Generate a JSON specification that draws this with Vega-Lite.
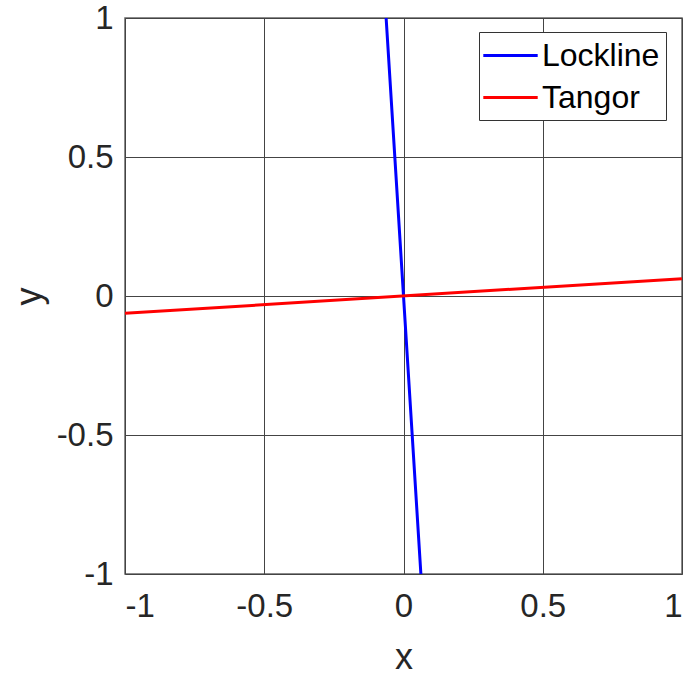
{
  "$schema": "https://vega.github.io/schema/vega-lite/v6.json",
  "width": 557,
  "height": 556,
  "autosize": {"type": "none"},
  "padding": {"left": 125, "top": 18, "right": 4, "bottom": 103},
  "background": "white",
  "data": {
    "values": [
      {"x": -0.0625, "y": 1, "series": "Lockline", "o": 0},
      {"x": 0.0625, "y": -1, "series": "Lockline", "o": 1},
      {"x": -1, "y": -0.0625, "series": "Tangor", "o": 0},
      {"x": 1, "y": 0.0625, "series": "Tangor", "o": 1}
    ]
  },
  "mark": {"type": "line", "strokeWidth": 3, "clip": true},
  "encoding": {
    "x": {
      "field": "x", "type": "quantitative",
      "scale": {"domain": [-1, 1], "nice": false, "zero": false},
      "axis": {"values": [-1, -0.5, 0, 0.5, 1], "title": "x", "labelExpr": "'' + datum.value"}
    },
    "y": {
      "field": "y", "type": "quantitative",
      "scale": {"domain": [-1, 1], "nice": false, "zero": false},
      "axis": {"values": [-1, -0.5, 0, 0.5, 1], "title": "y", "labelExpr": "'' + datum.value"}
    },
    "order": {"field": "o"},
    "color": {
      "field": "series", "type": "nominal",
      "scale": {"domain": ["Lockline", "Tangor"], "range": ["#0000ff", "#ff0000"]},
      "legend": {
        "title": null,
        "orient": "none",
        "legendX": 354,
        "legendY": 14,
        "symbolType": "M-1.7,0H1.7",
        "symbolSize": 1024,
        "symbolStrokeWidth": 3,
        "symbolOffset": 8,
        "labelFontSize": 32,
        "labelFont": "Liberation Sans",
        "labelColor": "black",
        "labelOffset": 14,
        "rowPadding": 8,
        "padding": 6,
        "strokeColor": "#333333",
        "fillColor": "white"
      }
    }
  },
  "config": {
    "view": {"stroke": "#666666", "strokeWidth": 1.5},
    "axis": {
      "labelFont": "Liberation Sans",
      "titleFont": "Liberation Sans",
      "labelFontSize": 33,
      "titleFontSize": 36,
      "titleFontWeight": "normal",
      "labelColor": "#262626",
      "titleColor": "#262626",
      "grid": true,
      "gridColor": "#444444",
      "gridWidth": 1,
      "domain": false,
      "ticks": false
    },
    "axisX": {"labelPadding": 16, "titlePadding": 17},
    "axisY": {"labelPadding": 12, "titlePadding": 8}
  }
}
